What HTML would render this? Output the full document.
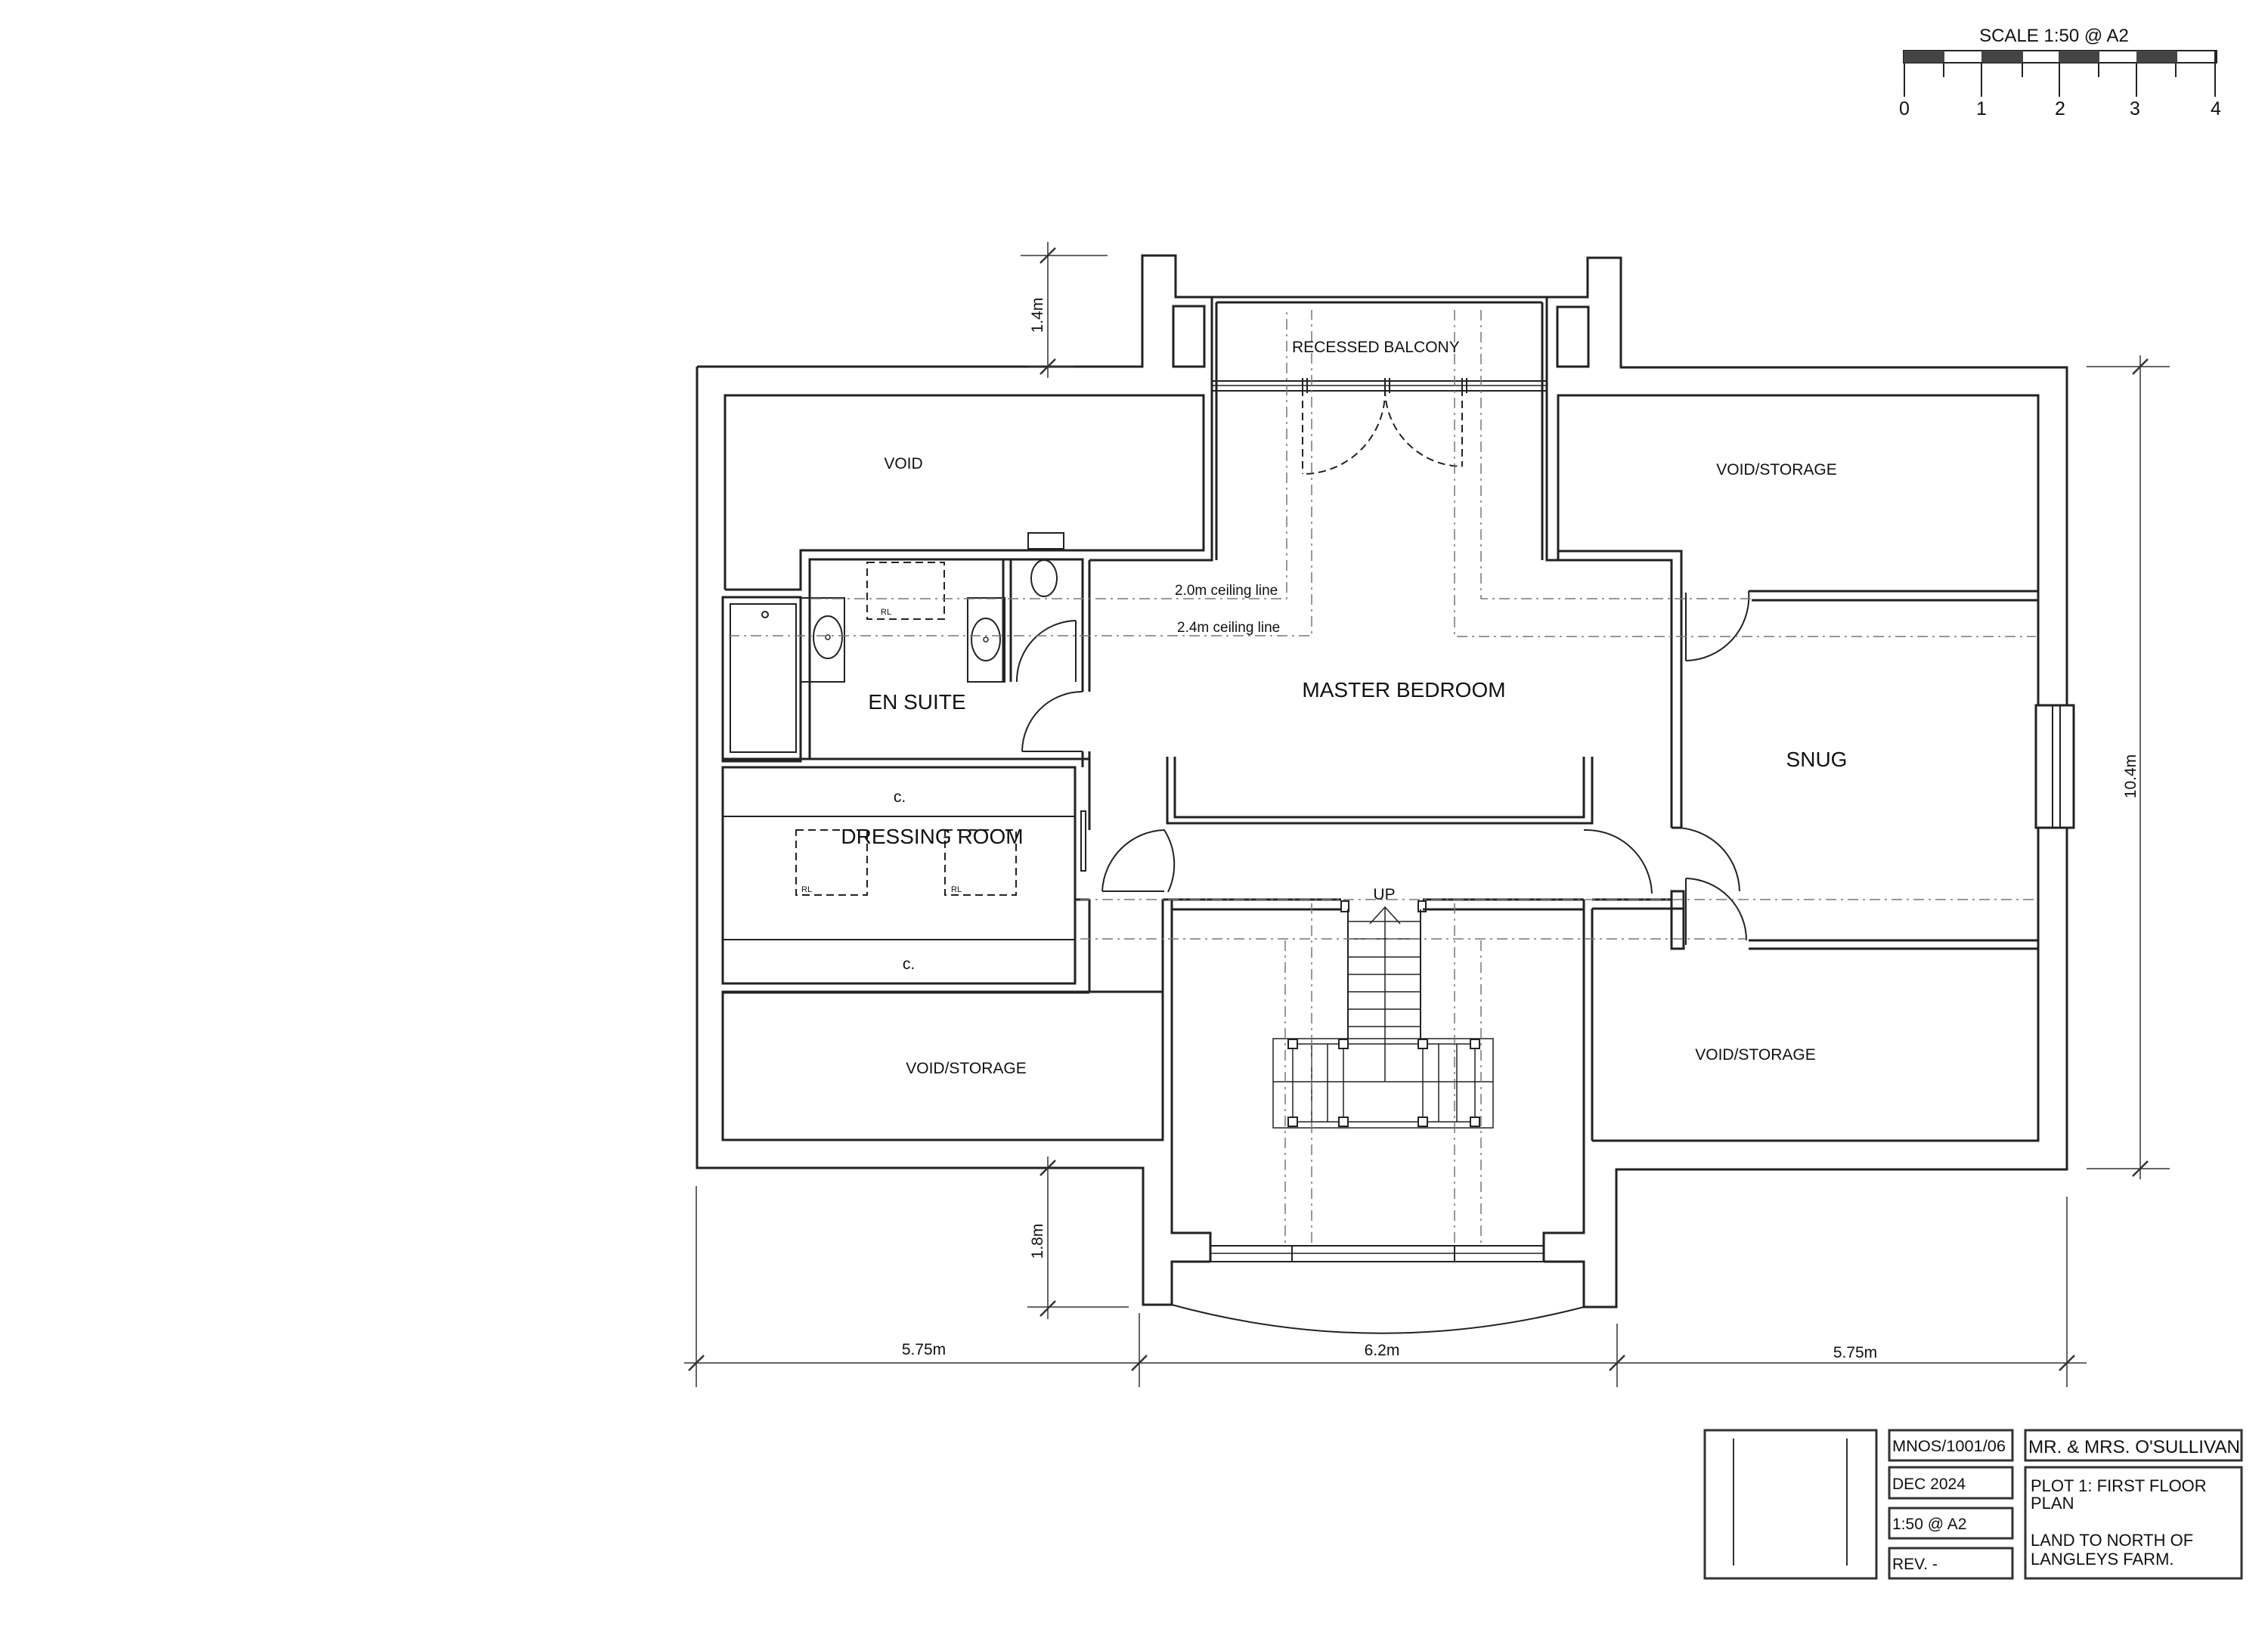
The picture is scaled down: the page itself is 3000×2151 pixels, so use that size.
<!DOCTYPE html>
<html><head><meta charset="utf-8"><style>
html,body{margin:0;padding:0;background:#fff}
svg{display:block}
text{font-family:"Liberation Sans",Arial,sans-serif;fill:#111}
</style></head><body>
<svg width="3000" height="2151" viewBox="0 0 3000 2151" xmlns="http://www.w3.org/2000/svg">
<rect width="3000" height="2151" fill="#fff"/>
<g fill="none" stroke="#222" stroke-width="3" stroke-linejoin="miter">
<polyline points="922,485 1511,485 1511,338 1555,338 1555,393 1603,393"/>
<polyline points="2046,393 2100,393 2100,341 2144,341 2144,486 2734,486 2734,1547 2138,1547 2138,1729 2095,1729 2095,1669 2042,1669"/>
<polyline points="1601,1669 1550,1669 1550,1726 1512,1726 1512,1545 922,1545 922,485"/>
<rect x="1552" y="405" width="41" height="80"/>
<rect x="2060" y="406" width="41" height="79"/>
<polyline points="1603,393 1603,741 1441,741"/>
<line x1="1609" y1="400" x2="1609" y2="741"/>
<polyline points="2046,393 2046,741 2211,741 2211,1095"/>
<line x1="2040" y1="400" x2="2040" y2="741"/>
<line x1="1603" y1="393" x2="2046" y2="393"/>
<line x1="1609" y1="400" x2="2040" y2="400"/>
<line x1="1603" y1="504" x2="2046" y2="504" stroke-width="2"/>
<line x1="1603" y1="510" x2="2046" y2="510" stroke-width="1.5"/>
<line x1="1603" y1="517" x2="2046" y2="517" stroke-width="2"/>
<line x1="1723" y1="500" x2="1723" y2="520" stroke-width="2"/>
<line x1="1729" y1="500" x2="1729" y2="520" stroke-width="2"/>
<line x1="1832" y1="500" x2="1832" y2="520" stroke-width="2"/>
<line x1="1838" y1="500" x2="1838" y2="520" stroke-width="2"/>
<line x1="1934" y1="500" x2="1934" y2="520" stroke-width="2"/>
<line x1="1940" y1="500" x2="1940" y2="520" stroke-width="2"/>
<polyline points="959,780 959,523 1592,523 1592,728 1059,728 1059,780 959,780"/>
<rect x="1360" y="705" width="47" height="21" stroke-width="2"/>
<polyline points="1071,1004 1071,740 1432,740 1432,915"/>
<line x1="1441" y1="741" x2="1441" y2="915"/>
<line x1="1327" y1="740" x2="1327" y2="902"/>
<line x1="1337" y1="740" x2="1337" y2="902"/>
<line x1="1432" y1="994" x2="1432" y2="1015"/>
<line x1="1441" y1="994" x2="1441" y2="1015"/>
<line x1="956" y1="1004" x2="1441" y2="1004"/>
<rect x="956" y="790" width="103" height="217"/>
<rect x="966" y="799" width="87" height="196" stroke-width="2"/>
<circle cx="1012" cy="813" r="4" stroke-width="2"/>
<rect x="1059" y="791" width="58" height="111" stroke-width="2"/>
<ellipse cx="1095" cy="843" rx="19" ry="28" stroke-width="2"/>
<circle cx="1095" cy="843" r="3" stroke-width="1.5"/>
<rect x="1280" y="791" width="49" height="111" stroke-width="2"/>
<ellipse cx="1304" cy="846" rx="19" ry="28" stroke-width="2"/>
<circle cx="1304" cy="846" r="3" stroke-width="1.5"/>
<ellipse cx="1381" cy="765" rx="17" ry="24" stroke-width="2"/>
<rect x="1147" y="744" width="102" height="75" stroke-width="2" stroke-dasharray="10,6"/>
<line x1="1423" y1="821" x2="1423" y2="902" stroke-width="2"/>
<path d="M1423,821 A80,80 0 0 0 1345,902" stroke-width="2"/>
<line x1="1352" y1="994" x2="1432" y2="994" stroke-width="2"/>
<path d="M1432,915 A80,80 0 0 0 1352,994" stroke-width="2"/>
<rect x="956" y="1015" width="466" height="286"/>
<line x1="956" y1="1080" x2="1422" y2="1080" stroke-width="2"/>
<line x1="956" y1="1243" x2="1422" y2="1243" stroke-width="2"/>
<line x1="1441" y1="1015" x2="1441" y2="1098"/>
<line x1="1441" y1="1190" x2="1441" y2="1313"/>
<line x1="1422" y1="1190" x2="1441" y2="1190"/>
<rect x="1430" y="1073" width="6" height="79" stroke-width="2"/>
<rect x="1053" y="1098" width="94" height="86" stroke-width="2" stroke-dasharray="10,6"/>
<rect x="1250" y="1098" width="94" height="86" stroke-width="2" stroke-dasharray="10,6"/>
<line x1="1458" y1="1179" x2="1540" y2="1179" stroke-width="2"/>
<path d="M1458,1179 A85,85 0 0 1 1540,1098 A85,85 0 0 1 1545,1180" stroke-width="2"/>
<rect x="956" y="1312" width="582" height="196"/>
<line x1="956" y1="1313" x2="1441" y2="1313"/>
<polyline points="1550,1190 1550,1631 1601,1631 1601,1669"/>
<line x1="1538" y1="1190" x2="1538" y2="1508"/>
<polyline points="2095,1190 2095,1631 2042,1631 2042,1669"/>
<line x1="2106" y1="1202" x2="2106" y2="1509"/>
<line x1="1601" y1="1648" x2="2042" y2="1648" stroke-width="2"/>
<line x1="1601" y1="1658" x2="2042" y2="1658" stroke-width="1.5"/>
<line x1="1601" y1="1669" x2="2042" y2="1669" stroke-width="2"/>
<line x1="1709" y1="1648" x2="1709" y2="1669" stroke-width="2"/>
<line x1="1924" y1="1648" x2="1924" y2="1669" stroke-width="2"/>
<path d="M1550,1726 Q1822,1800 2095,1729" stroke-width="2"/>
<polyline points="1544,1001 1544,1089 2106,1089 2106,1001"/>
<polyline points="1554,1001 1554,1081 2095,1081 2095,1001"/>
<line x1="1538" y1="1190" x2="1774" y2="1190"/>
<line x1="1550" y1="1203" x2="1774" y2="1203"/>
<line x1="1882" y1="1190" x2="2095" y2="1190"/>
<line x1="1882" y1="1203" x2="2095" y2="1203"/>
<line x1="2106" y1="1190" x2="2211" y2="1190"/>
<line x1="2106" y1="1202" x2="2227" y2="1202"/>
<rect x="2211" y="1179" width="16" height="76"/>
<polyline points="2061,741 2061,523 2696,523 2696,1509 2106,1509"/>
<polyline points="2061,729 2224,729 2224,1095"/>
<line x1="2313" y1="782" x2="2696" y2="782"/>
<line x1="2317" y1="794" x2="2696" y2="794"/>
<line x1="2313" y1="1244" x2="2696" y2="1244"/>
<line x1="2313" y1="1255" x2="2696" y2="1255"/>
<rect x="2693" y="933" width="50" height="162" fill="#fff"/>
<line x1="2715" y1="933" x2="2715" y2="1095" stroke-width="2"/>
<line x1="2725" y1="933" x2="2725" y2="1095" stroke-width="2"/>
<line x1="2211" y1="1095" x2="2224" y2="1095"/>
<line x1="2230" y1="784" x2="2230" y2="874" stroke-width="2"/>
<path d="M2313,782 A85,85 0 0 1 2230,874" stroke-width="2"/>
<path d="M2095,1098 A87,87 0 0 1 2185,1182" stroke-width="2"/>
<path d="M2211,1095 A86,86 0 0 1 2301,1179" stroke-width="2"/>
<line x1="2230" y1="1162" x2="2230" y2="1250" stroke-width="2"/>
<path d="M2230,1162 A82,82 0 0 1 2310,1244" stroke-width="2"/>
<line x1="1723" y1="514" x2="1723" y2="627" stroke-width="2" stroke-dasharray="10,6"/>
<path d="M1832,514 A109,109 0 0 1 1723,627" stroke-width="2" stroke-dasharray="10,6"/>
<line x1="1934" y1="514" x2="1934" y2="617" stroke-width="2" stroke-dasharray="10,6"/>
<path d="M1832,514 A103,103 0 0 0 1934,617" stroke-width="2" stroke-dasharray="10,6"/>
<rect x="1774" y="1192" width="10" height="14" stroke-width="2"/>
<rect x="1876" y="1192" width="10" height="14" stroke-width="2"/>
<line x1="1783" y1="1203" x2="1783" y2="1381" stroke-width="2"/>
<line x1="1879" y1="1203" x2="1879" y2="1381" stroke-width="2"/>
<g stroke-width="1.5">
<line x1="1783" y1="1219" x2="1879" y2="1219"/><line x1="1783" y1="1242" x2="1879" y2="1242"/>
<line x1="1783" y1="1266" x2="1879" y2="1266"/><line x1="1783" y1="1289" x2="1879" y2="1289"/>
<line x1="1783" y1="1312" x2="1879" y2="1312"/><line x1="1783" y1="1335" x2="1879" y2="1335"/>
<line x1="1783" y1="1358" x2="1879" y2="1358"/>
<line x1="1832" y1="1200" x2="1832" y2="1431"/>
<polyline points="1812,1222 1832,1200 1852,1222"/>
<rect x="1684" y="1374" width="291" height="118"/>
<line x1="1684" y1="1431" x2="1975" y2="1431"/>
<line x1="1710" y1="1381" x2="1710" y2="1484"/><line x1="1777" y1="1381" x2="1777" y2="1484"/>
<line x1="1882" y1="1381" x2="1882" y2="1484"/><line x1="1951" y1="1381" x2="1951" y2="1484"/>
<line x1="1735" y1="1381" x2="1735" y2="1484"/><line x1="1756" y1="1381" x2="1756" y2="1484"/>
<line x1="1903" y1="1381" x2="1903" y2="1484"/><line x1="1927" y1="1381" x2="1927" y2="1484"/>
<line x1="1710" y1="1381" x2="1951" y2="1381"/><line x1="1710" y1="1484" x2="1951" y2="1484"/>
</g>
<g fill="#fff" stroke-width="2">
<rect x="1704" y="1375" width="12" height="12"/><rect x="1771" y="1375" width="12" height="12"/>
<rect x="1876" y="1375" width="12" height="12"/><rect x="1945" y="1375" width="12" height="12"/>
<rect x="1704" y="1478" width="12" height="12"/><rect x="1771" y="1478" width="12" height="12"/>
<rect x="1876" y="1478" width="12" height="12"/><rect x="1945" y="1478" width="12" height="12"/>
</g>
</g>
<g fill="none" stroke="#777" stroke-width="1.5" stroke-dasharray="14,6,3,6">
<polyline points="1072,792 1702,792 1702,410"/>
<polyline points="964,841 1735,841 1735,410"/>
<polyline points="1959,410 1959,792 2317,792"/>
<polyline points="1924,410 1924,842 2693,842"/>
<line x1="1429" y1="1242" x2="2310" y2="1242"/>
<line x1="1429" y1="1190" x2="2693" y2="1190"/>
<line x1="1700" y1="1244" x2="1700" y2="1648"/>
<line x1="1959" y1="1244" x2="1959" y2="1648"/>
<line x1="1735" y1="1195" x2="1735" y2="1648"/>
<line x1="1924" y1="1195" x2="1924" y2="1648"/>
</g>
<g fill="none" stroke="#333" stroke-width="1.5">
<line x1="1350" y1="338" x2="1465" y2="338"/>
<line x1="1386" y1="320" x2="1386" y2="500"/>
<line x1="1360" y1="485" x2="1420" y2="485"/>
<line x1="1376" y1="348" x2="1396" y2="328" stroke-width="2.5"/>
<line x1="1376" y1="495" x2="1396" y2="475" stroke-width="2.5"/>
<line x1="1386" y1="1530" x2="1386" y2="1745"/>
<line x1="1359" y1="1729" x2="1493" y2="1729"/>
<line x1="1376" y1="1555" x2="1396" y2="1535" stroke-width="2.5"/>
<line x1="1376" y1="1741" x2="1396" y2="1721" stroke-width="2.5"/>
<line x1="905" y1="1803" x2="2760" y2="1803"/>
<line x1="921" y1="1569" x2="921" y2="1835"/>
<line x1="1507" y1="1737" x2="1507" y2="1835"/>
<line x1="2139" y1="1751" x2="2139" y2="1835"/>
<line x1="2734" y1="1583" x2="2734" y2="1835"/>
<line x1="911" y1="1813" x2="931" y2="1793" stroke-width="2.5"/>
<line x1="1497" y1="1813" x2="1517" y2="1793" stroke-width="2.5"/>
<line x1="2129" y1="1813" x2="2149" y2="1793" stroke-width="2.5"/>
<line x1="2724" y1="1813" x2="2744" y2="1793" stroke-width="2.5"/>
<line x1="2831" y1="470" x2="2831" y2="1560"/>
<line x1="2760" y1="485" x2="2870" y2="485"/>
<line x1="2760" y1="1546" x2="2870" y2="1546"/>
<line x1="2821" y1="495" x2="2841" y2="475" stroke-width="2.5"/>
<line x1="2821" y1="1556" x2="2841" y2="1536" stroke-width="2.5"/>
</g>
<g font-size="21">
<text x="1195" y="620" text-anchor="middle">VOID</text>
<text x="1709" y="466">RECESSED BALCONY</text>
<text x="2350" y="628" text-anchor="middle">VOID/STORAGE</text>
<text x="1278" y="1420" text-anchor="middle">VOID/STORAGE</text>
<text x="2322" y="1402" text-anchor="middle">VOID/STORAGE</text>
<text x="1190" y="1061" text-anchor="middle">c.</text>
<text x="1202" y="1282" text-anchor="middle">c.</text>
<text x="1831" y="1190" text-anchor="middle">UP</text>
<text x="1222" y="1792" text-anchor="middle">5.75m</text>
<text x="1828" y="1793" text-anchor="middle">6.2m</text>
<text x="2454" y="1796" text-anchor="middle">5.75m</text>
<text transform="translate(1379,417) rotate(-90)" text-anchor="middle">1.4m</text>
<text transform="translate(1379,1642) rotate(-90)" text-anchor="middle">1.8m</text>
<text transform="translate(2825,1027) rotate(-90)" text-anchor="middle">10.4m</text>
</g>
<g font-size="19">
<text x="1554" y="787">2.0m ceiling line</text>
<text x="1557" y="836">2.4m ceiling line</text>
</g>
<g font-size="11"><text x="1165" y="813">RL</text><text x="1060" y="1180">RL</text><text x="1258" y="1180">RL</text></g>
<g font-size="28">
<text x="1857" y="922" text-anchor="middle">MASTER BEDROOM</text>
<text x="1213" y="938" text-anchor="middle">EN SUITE</text>
<text x="1233" y="1116" text-anchor="middle">DRESSING ROOM</text>
<text x="2403" y="1014" text-anchor="middle">SNUG</text>
</g>
<text x="2717" y="55" font-size="24" text-anchor="middle">SCALE 1:50 @ A2</text>
<g stroke="#222" stroke-width="2" fill="none">
<rect x="2518" y="67" width="414" height="16"/>
</g>
<g fill="#444">
<rect x="2518" y="67" width="54" height="16"/><rect x="2621" y="67" width="55" height="16"/>
<rect x="2723" y="67" width="54" height="16"/><rect x="2826" y="67" width="54" height="16"/>
</g>
<g stroke="#222" stroke-width="2">
<line x1="2519" y1="83" x2="2519" y2="128"/><line x1="2621" y1="83" x2="2621" y2="128"/>
<line x1="2724" y1="83" x2="2724" y2="128"/><line x1="2826" y1="83" x2="2826" y2="128"/>
<line x1="2930" y1="67" x2="2930" y2="128"/>
<line x1="2571" y1="83" x2="2571" y2="102"/><line x1="2675" y1="83" x2="2675" y2="102"/>
<line x1="2776" y1="83" x2="2776" y2="102"/><line x1="2878" y1="83" x2="2878" y2="102"/>
</g>
<g font-size="25" text-anchor="middle">
<text x="2519" y="152">0</text><text x="2621" y="152">1</text><text x="2725" y="152">2</text><text x="2824" y="152">3</text><text x="2931" y="152">4</text>
</g>
<g fill="none" stroke="#333" stroke-width="3">
<rect x="2255" y="1892" width="227" height="196"/>
<rect x="2499" y="1892" width="163" height="40"/>
<rect x="2499" y="1941" width="163" height="41"/>
<rect x="2499" y="1995" width="163" height="40"/>
<rect x="2499" y="2048" width="163" height="40"/>
<rect x="2679" y="1892" width="286" height="40"/>
<rect x="2679" y="1941" width="286" height="147"/>
</g>
<g stroke="#333" stroke-width="2"><line x1="2293" y1="1903" x2="2293" y2="2071"/><line x1="2443" y1="1903" x2="2443" y2="2071"/></g>
<g font-size="21">
<text x="2503" y="1920" textLength="150" lengthAdjust="spacingAndGlyphs">MNOS/1001/06</text>
<text x="2503" y="1970">DEC 2024</text>
<text x="2503" y="2023">1:50 @ A2</text>
<text x="2503" y="2076">REV. -</text>
</g>
<g font-size="22">
<text x="2686" y="1973">PLOT 1: FIRST FLOOR</text>
<text x="2686" y="1996">PLAN</text>
<text x="2686" y="2045">LAND TO NORTH OF</text>
<text x="2686" y="2070">LANGLEYS FARM.</text>
</g>
<text x="2683" y="1922" font-size="24" textLength="280" lengthAdjust="spacingAndGlyphs">MR. &amp; MRS. O'SULLIVAN</text>
</svg>
</body></html>
